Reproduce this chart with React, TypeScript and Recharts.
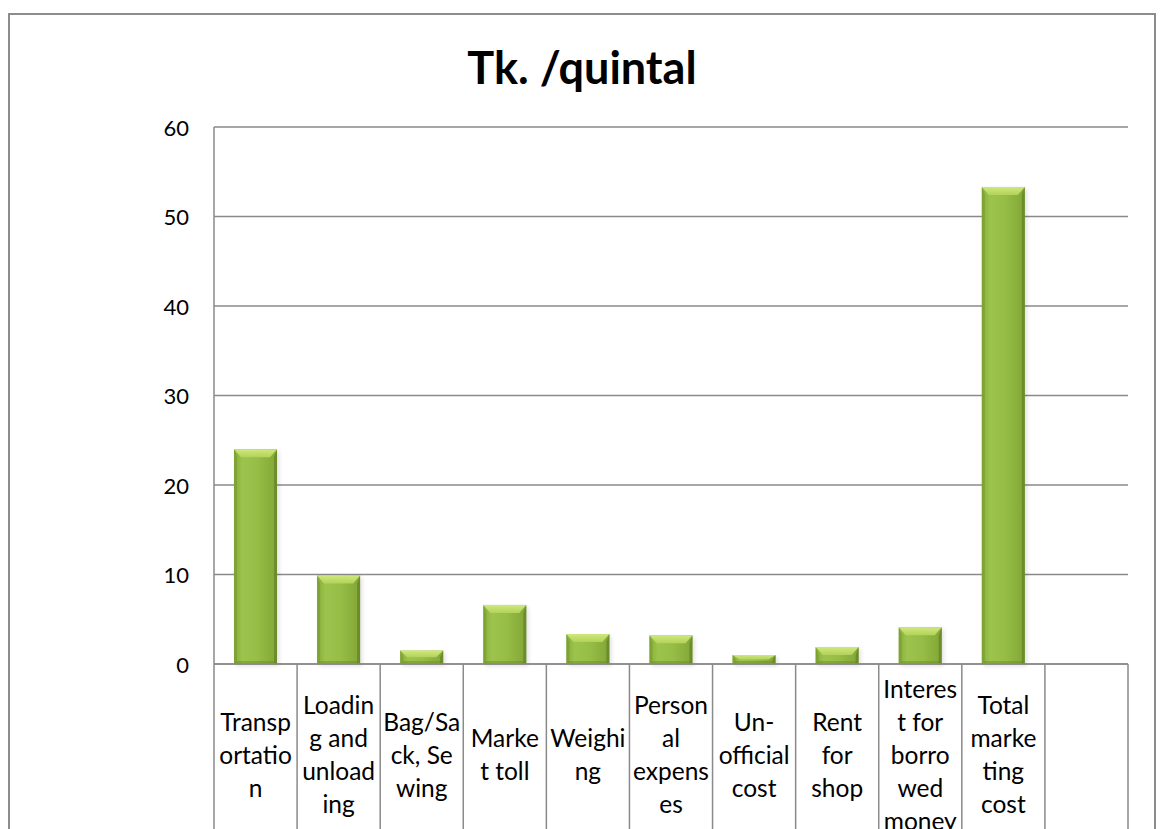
import React from "react";
import { BarChart, Bar, XAxis, YAxis, CartesianGrid } from "recharts";

const categories = [
  "Transportation",
  "Loading and unloading",
  "Bag/Sack, Sewing",
  "Market toll",
  "Weighing",
  "Personal expenses",
  "Un-official cost",
  "Rent for shop",
  "Interest for borrowed money",
  "Total marketing cost",
  "",
];

const categoryLines: string[][] = [
  ["Transp", "ortatio", "n"],
  ["Loadin", "g and", "unload", "ing"],
  ["Bag/Sa", "ck, Se", "wing"],
  ["Marke", "t toll"],
  ["Weighi", "ng"],
  ["Person", "al", "expens", "es"],
  ["Un-", "official", "cost"],
  ["Rent", "for", "shop"],
  ["Interes", "t for", "borro", "wed", "money"],
  ["Total", "marke", "ting", "cost"],
  [],
];

const values: (number | null)[] = [24, 9.9, 1.5, 6.6, 3.35, 3.2, 1.0, 1.9, 4.1, 53.3, null];

const yTicks = [0, 10, 20, 30, 40, 50, 60];

const title = "Tk. /quintal";

const data = categories.map((name, i) => ({ name, value: values[i] }));

const FONT = "Lato, 'Open Sans', sans-serif";
const GRID = "#8a8a8a";
const PLOT_BOTTOM = 664;
const LABEL_CENTER = 754;
const LINE_H = 33;

const BevelBar = (props: any) => {
  const { x, y, width, height } = props;
  if (height == null || height <= 0 || width <= 0) return null;
  const b = Math.min(8, height / 2);
  const s = Math.min(7, width / 4);
  const e = Math.min(3, width / 6);
  return (
    <g>
      <rect x={x + 2} y={y + 2} width={width} height={height} fill="#000" opacity={0.12} filter="url(#barShadow)" />
      <rect x={x} y={y} width={width} height={height} fill="url(#bodyGrad)" />
      <polygon
        points={`${x},${y + height} ${x + width},${y + height} ${x + width - e},${y + height - Math.min(3, height / 3)} ${x + e},${y + height - Math.min(3, height / 3)}`}
        fill="#6b8c28"
        opacity={0.5}
      />
      <polygon
        points={`${x},${y} ${x + e},${y + b} ${x + e},${y + height} ${x},${y + height}`}
        fill="#76992e"
        opacity={0.6}
      />
      <polygon
        points={`${x + width},${y} ${x + width - e},${y + b} ${x + width - e},${y + height} ${x + width},${y + height}`}
        fill="#5f7e22"
        opacity={0.65}
      />
      <polygon
        points={`${x},${y} ${x + width},${y} ${x + width - s},${y + b} ${x + s},${y + b}`}
        fill="url(#topGrad)"
      />
    </g>
  );
};

const XTick = (props: any) => {
  const { x, index, width, visibleTicksCount } = props;
  const count = visibleTicksCount || categories.length;
  const band = (width || 914) / count;
  const lines: string[] = categoryLines[index] || [];
  const start = LABEL_CENTER - ((lines.length - 1) / 2) * LINE_H;
  return (
    <g>
      <line x1={x - band / 2} y1={PLOT_BOTTOM} x2={x - band / 2} y2={900} stroke={GRID} strokeWidth={1.5} />
      {index === count - 1 && (
        <line x1={x + band / 2} y1={PLOT_BOTTOM} x2={x + band / 2} y2={900} stroke={GRID} strokeWidth={1.5} />
      )}
      {lines.map((t, i) => (
        <text
          key={i}
          x={x}
          y={start + i * LINE_H}
          textAnchor="middle"
          dominantBaseline="central"
          fontFamily={FONT}
          fontSize={24.5}
          fill="#000"
        >
          {t}
        </text>
      ))}
    </g>
  );
};

const YTick = (props: any) => {
  const { y, payload } = props;
  return (
    <text x={189} y={y} textAnchor="end" dominantBaseline="central" fontFamily={FONT} fontSize={22} fill="#000">
      {payload.value}
    </text>
  );
};

export default function App() {
  return (
    <div
      style={{
        position: "absolute",
        left: 0,
        top: 0,
        width: 1161,
        height: 829,
        overflow: "hidden",
        background: "#fff",
      }}
    >
      <div
        style={{
          position: "absolute",
          left: 8,
          top: 13,
          width: 1148,
          height: 900,
          border: "2px solid #8c8c8c",
          boxSizing: "border-box",
        }}
      />
      <div
        style={{
          position: "absolute",
          left: 0,
          top: 37,
          width: 1164,
          textAlign: "center",
          fontFamily: FONT,
          fontWeight: 700,
          fontSize: 45,
          color: "#000",
          lineHeight: "60px",
        }}
      >
        {title}
      </div>
      <div style={{ position: "absolute", left: 0, top: 0 }}>
        <BarChart
          width={1161}
          height={900}
          data={data}
          margin={{ top: 127, right: 33, bottom: 0, left: 0 }}
        >
          <defs>
            <linearGradient id="bodyGrad" x1="0" y1="0" x2="1" y2="0">
              <stop offset="0%" stopColor="#88ad3a" />
              <stop offset="20%" stopColor="#9cc44d" />
              <stop offset="55%" stopColor="#96bd46" />
              <stop offset="100%" stopColor="#82a636" />
            </linearGradient>
            <linearGradient id="topGrad" x1="0" y1="0" x2="0" y2="1">
              <stop offset="0%" stopColor="#cfe87c" />
              <stop offset="100%" stopColor="#b2d25a" />
            </linearGradient>
            <filter id="barShadow" x="-20%" y="-20%" width="140%" height="140%">
              <feGaussianBlur stdDeviation="2" />
            </filter>
          </defs>
          <CartesianGrid horizontal vertical={false} stroke={GRID} strokeWidth={1.5} />
          <XAxis
            dataKey="name"
            height={236}
            interval={0}
            axisLine={{ stroke: GRID, strokeWidth: 1.5 }}
            tickLine={false}
            tick={<XTick />}
          />
          <YAxis
            type="number"
            domain={[0, 60]}
            ticks={yTicks}
            width={214}
            axisLine={{ stroke: GRID, strokeWidth: 1.5 }}
            tickLine={false}
            tick={<YTick />}
            interval={0}
          />
          <Bar dataKey="value" barSize={43} isAnimationActive={false} shape={<BevelBar />} />
        </BarChart>
      </div>
    </div>
  );
}
